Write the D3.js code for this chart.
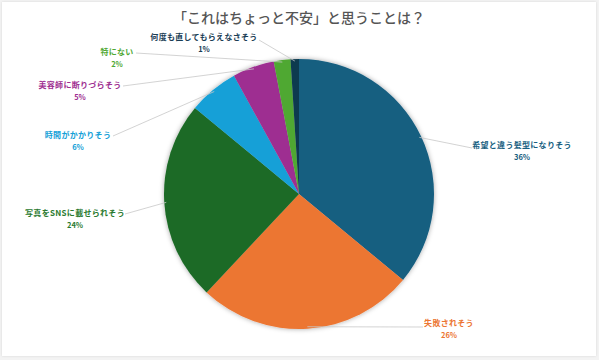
<!DOCTYPE html>
<html><head><meta charset="utf-8">
<script src="https://cdn.jsdelivr.net/npm/d3@7"></script>
<style>
html,body{margin:0;padding:0;background:#f3f3f3;}
svg{display:block;}
text{font-family:"Noto Sans CJK JP","Noto Sans",sans-serif;}
</style></head><body>
<svg id="c" width="599" height="360"></svg>
<script>
const categories = ["希望と違う髪型になりそう","失敗されそう","写真をSNSに載せられそう","時間がかかりそう","美容師に断りづらそう","特にない","何度も直してもらえなさそう"];
const values = [36,26,24,6,5,2,1];
const percentLabels = ["36%","26%","24%","6%","5%","2%","1%"];
const colors = ["#175e80","#ec7633","#1d6b27","#14a0d7","#9e2e91","#4fa833","#0d3a4f"];
const textColors = ["#175e80","#ec7633","#2a7a30","#14a0d7","#9e2e91","#4fa833","#1a3d55"];
const title = "「これはちょっと不安」と思うことは？";

// label layout (anchor end of leader line and text centre)
const labelLayout = [
  {lx:472, ly:148, tx:522, ty:145},
  {lx:423, ly:327, tx:449, ty:323},
  {lx:125, ly:214, tx:75,  ty:213},
  {lx:113, ly:136, tx:78,  ty:135},
  {lx:123, ly:86,  tx:80,  ty:85},
  {lx:136, ly:53,  tx:117, ty:52},
  {lx:259, ly:40,  tx:204, ty:37}
];

const svg = d3.select("#c");
const defs = svg.append("defs");
const f = defs.append("filter").attr("id","sh").attr("x","-20%").attr("y","-20%").attr("width","140%").attr("height","140%");
f.append("feDropShadow").attr("dx",0).attr("dy",0).attr("stdDeviation",2.5).attr("flood-color","#000").attr("flood-opacity",0.35);
const f2 = defs.append("filter").attr("id","cs").attr("x","-5%").attr("y","-5%").attr("width","110%").attr("height","110%");
f2.append("feDropShadow").attr("dx",0).attr("dy",0).attr("stdDeviation",1).attr("flood-color","#000").attr("flood-opacity",0.12);

svg.append("rect").attr("x",2).attr("y",2).attr("width",594).attr("height",354).attr("fill","#fff").attr("filter","url(#cs)");

svg.append("text").attr("x",299).attr("y",23).attr("text-anchor","middle")
  .attr("font-size",14).attr("font-weight",500).attr("fill","#555").text(title);

const cx=299, cy=194, r=135;
const pie = d3.pie().sort(null).value(d=>d);
const arcs = pie(values);
const arc = d3.arc().innerRadius(0).outerRadius(r);

const g = svg.append("g").attr("transform",`translate(${cx},${cy})`);

// leader lines
arcs.forEach((a,i)=>{
  const m=(a.startAngle+a.endAngle)/2;
  const px=cx+(r-2)*Math.sin(m), py=cy-(r-2)*Math.cos(m);
  svg.append("line").attr("x1",px).attr("y1",py).attr("x2",labelLayout[i].lx).attr("y2",labelLayout[i].ly)
    .attr("stroke","#c8c8c8").attr("stroke-width",0.8);
});

const pg = g.append("g").attr("filter","url(#sh)");
pg.selectAll("path").data(arcs).join("path")
  .attr("d",arc).attr("fill",(d,i)=>colors[i]);

arcs.forEach((a,i)=>{
  const L=labelLayout[i];
  svg.append("text").attr("x",L.tx).attr("y",L.ty+3).attr("text-anchor","middle")
    .attr("font-size",8).attr("font-weight",700).attr("fill",textColors[i]).attr("letter-spacing",0.3).text(categories[i]);
  svg.append("text").attr("x",L.tx).attr("y",L.ty+15).attr("text-anchor","middle")
    .attr("font-size",7.5).attr("font-weight",700).attr("fill",textColors[i]).text(percentLabels[i]);
});
</script>
</body></html>
